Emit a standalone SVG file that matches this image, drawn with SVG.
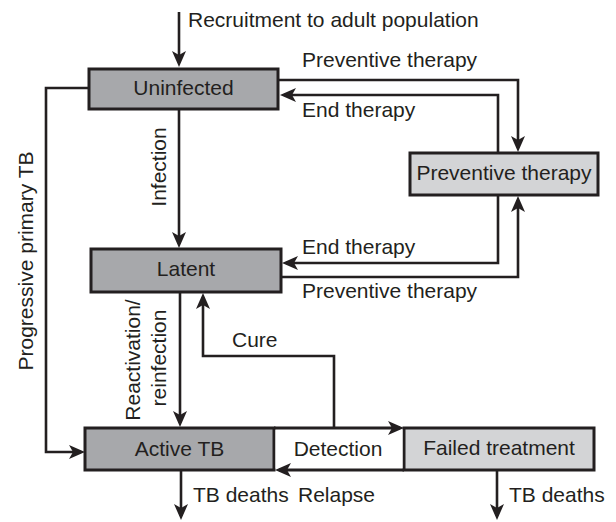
<svg xmlns="http://www.w3.org/2000/svg" width="616" height="522" viewBox="0 0 616 522">
<defs>
<style>
text{font-family:"Liberation Sans",Arial,sans-serif;font-size:21px;fill:#231f20}
.c{text-anchor:middle}
.box{stroke:#231f20;stroke-width:3}
.dark{fill:#a7a8ab}
.light{fill:#d3d4d6}
.ln{fill:none;stroke:#231f20;stroke-width:2.6;stroke-linejoin:miter}
.ah{marker-end:url(#ah)}
</style>
<marker id="ah" markerUnits="userSpaceOnUse" orient="auto" refX="0" refY="0" markerWidth="1" markerHeight="1" overflow="visible">
<path d="M4,0 L-12,-7 L-8,0 L-12,7 Z" fill="#231f20"/>
</marker>
</defs>
<rect width="616" height="522" fill="#ffffff"/>

<g id="connectors">
<path class="ln ah" d="M179,12 V63"/>
<path class="ln ah" d="M278,80 H518 V148"/>
<path class="ln ah" d="M498,153 V95 H284"/>
<path class="ln ah" d="M179,110 V244"/>
<path class="ln ah" d="M498,195 V263 H286"/>
<path class="ln ah" d="M281,277 H518 V200"/>
<path class="ln ah" d="M89,88 H46 V452 H81"/>
<path class="ln ah" d="M180,292 V423"/>
<path class="ln ah" d="M334,428 V356 H203 V297"/>
<path class="ln ah" d="M181,471 V516"/>
<path class="ln ah" d="M497,470 V516"/>
</g>

<g id="labels">
<text x="188" y="27">Recruitment to adult population</text>
<text x="302" y="67">Preventive therapy</text>
<text x="302" y="117">End therapy</text>
<text x="302" y="254">End therapy</text>
<text x="302" y="298">Preventive therapy</text>
<text class="c" transform="translate(166,167) rotate(-90)">Infection</text>
<text class="c" transform="translate(33,261) rotate(-90)">Progressive primary TB</text>
<text class="c" transform="translate(140,360) rotate(-90)">Reactivation/</text>
<text class="c" transform="translate(166,358) rotate(-90)">reinfection</text>
<text x="232" y="347">Cure</text>
<text x="193" y="502">TB deaths</text>
<text x="298" y="502">Relapse</text>
<text x="509" y="502">TB deaths</text>
</g>

<g id="uninfected">
<rect class="box dark" x="89" y="69" width="189" height="40"/>
<text class="c" x="183.5" y="95">Uninfected</text>
</g>
<g id="preventive-therapy">
<rect class="box light" x="410" y="153" width="188" height="42"/>
<text class="c" x="504" y="180">Preventive therapy</text>
</g>
<g id="latent">
<rect class="box dark" x="91" y="249" width="190" height="43"/>
<text class="c" x="186" y="276">Latent</text>
</g>
<g id="active-tb">
<rect class="box dark" x="85" y="428" width="189" height="42"/>
<text class="c" x="179.5" y="456">Active TB</text>
</g>
<g id="failed-treatment">
<rect class="box light" x="404" y="428" width="190" height="42"/>
<text class="c" x="499" y="455">Failed treatment</text>
</g>
<g id="detection">
<rect x="275.5" y="429.5" width="127" height="39" fill="#ffffff"/>
<path class="ln ah" d="M274,428 H400" style="stroke-width:3"/>
<path class="ln ah" d="M404,470 H279" style="stroke-width:3"/>
<text class="c" x="338" y="456">Detection</text>
</g>
</svg>
